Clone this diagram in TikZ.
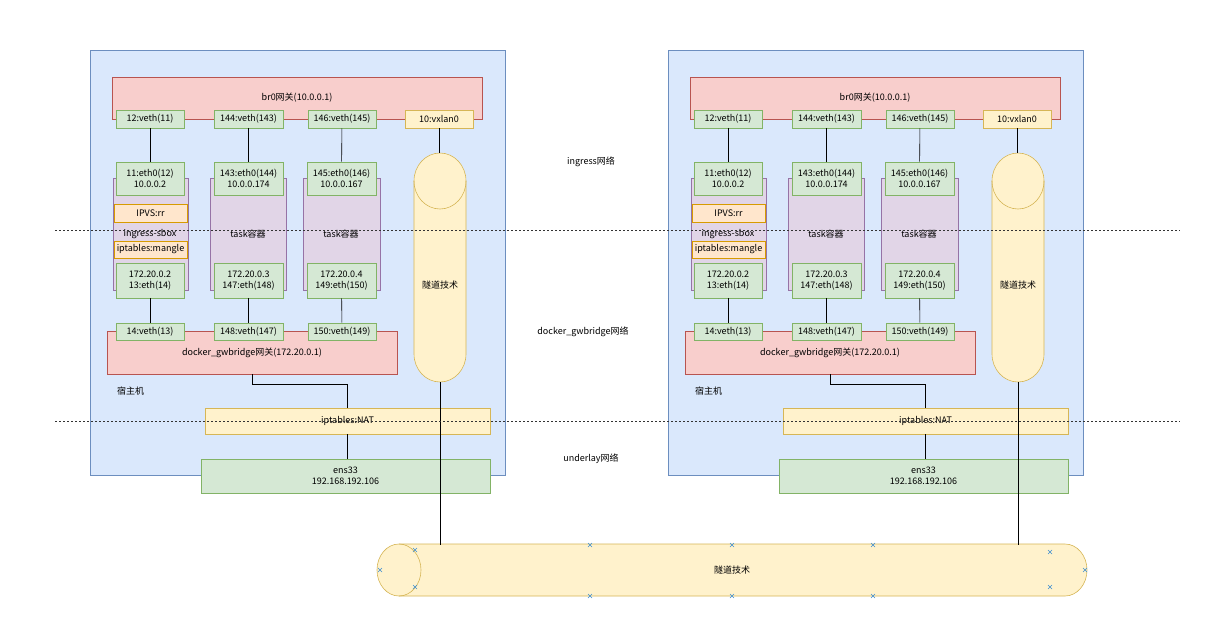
\documentclass[tikz,border=0pt]{standalone}
\usepackage{fontspec}
\setmainfont{Noto Sans CJK SC}
\definecolor{hostF}{HTML}{DAE8FC}\definecolor{hostD}{HTML}{6C8EBF}
\definecolor{redF}{HTML}{F8CECC}\definecolor{redD}{HTML}{B85450}
\definecolor{grnF}{HTML}{D5E8D4}\definecolor{grnD}{HTML}{82B366}
\definecolor{yelF}{HTML}{FFF2CC}\definecolor{yelD}{HTML}{D6B656}
\definecolor{orgF}{HTML}{FFE6CC}\definecolor{orgD}{HTML}{D79B00}
\definecolor{purF}{HTML}{E1D5E7}\definecolor{purD}{HTML}{9673A6}
\definecolor{mkC}{HTML}{3C8DD0}
\begin{document}
\begin{tikzpicture}[x=1pt,y=-1pt,
 every node/.style={font=\fontsize{9}{10.5}\selectfont, align=center, inner sep=0pt},
 host/.style={draw=hostD, fill=hostF, line width=0.6pt},
 rd/.style={draw=redD, fill=redF, line width=0.6pt},
 grn/.style={draw=grnD, fill=grnF, line width=0.6pt},
 yel/.style={draw=yelD, fill=yelF, line width=0.6pt},
 org/.style={draw=orgD, fill=orgF, line width=0.6pt},
 pur/.style={draw=purD, fill=purF, line width=0.6pt},
 ln/.style={draw=black, line width=0.6pt},
 dsh/.style={draw=black!80, dash pattern=on 2pt off 2pt, line width=0.8pt},
 mk/.style={draw=mkC, line width=0.6pt}]
\useasboundingbox (0,0) rectangle (1216,619);
\fill[white] (0,0) rectangle (1216,619);
\newcommand\myhost[2]{
 \begin{scope}[xshift=#1]
 \node[host, minimum width=415, minimum height=425] (#2h) at (297.5,262.5) {};
 \node[anchor=west] (#2hl) at (117,391) {宿主机};
 \node[rd, minimum width=370, minimum height=42] (#2br) at (297,98) {br0网关(10.0.0.1)};
 \node[rd, minimum width=290, minimum height=43] (#2gw) at (252,352.5) {};
 \node (#2gwt) at (252,353) {docker\_gwbridge网关(172.20.0.1)};
 \node[pur, minimum width=75, minimum height=112] (#2c1) at (150.5,234) {};
 \node[pur, minimum width=76, minimum height=112] (#2c2) at (248,234) {};
 \node[pur, minimum width=77, minimum height=112] (#2c3) at (341.5,234) {};
 \node (#2c1t) at (150,234) {ingress-sbox};
 \node (#2c2t) at (248,234) {task容器};
 \node (#2c3t) at (341,234) {task容器};
 \node[grn, minimum width=68, minimum height=33] (#2e1) at (150,178.5) {11:eth0(12)\\10.0.0.2};
 \node[grn, minimum width=69, minimum height=33] (#2e2) at (248.5,178.5) {143:eth0(144)\\10.0.0.174};
 \node[grn, minimum width=69, minimum height=33] (#2e3) at (341.5,178.5) {145:eth0(146)\\10.0.0.167};
 \node[grn, minimum width=68, minimum height=35] (#2f1) at (150,280.5) {172.20.0.2\\13:eth(14)};
 \node[grn, minimum width=69, minimum height=35] (#2f2) at (248.5,280.5) {172.20.0.3\\147:eth(148)};
 \node[grn, minimum width=69, minimum height=35] (#2f3) at (341.5,280.5) {172.20.0.4\\149:eth(150)};
 \node[org, minimum width=73, minimum height=18] (#2ip) at (150.5,213) {IPVS:rr};
 \node[org, minimum width=73, minimum height=17] (#2im) at (150.5,249.5) {iptables:mangle};
 \node[grn, minimum width=68, minimum height=18] (#2v1) at (150,119) {12:veth(11)};
 \node[grn, minimum width=69, minimum height=18] (#2v2) at (248.5,119) {144:veth(143)};
 \node[grn, minimum width=68, minimum height=18] (#2v3) at (342,119) {146:veth(145)};
 \node[yel, minimum width=68, minimum height=18] (#2vx) at (439,119) {10:vxlan0};
 \node[grn, minimum width=68, minimum height=17] (#2w1) at (150,331.5) {14:veth(13)};
 \node[grn, minimum width=69, minimum height=17] (#2w2) at (248.5,331.5) {148:veth(147)};
 \node[grn, minimum width=68, minimum height=17] (#2w3) at (342,331.5) {150:veth(149)};
 \node[yel, minimum width=285, minimum height=26] (#2nat) at (347.5,421) {iptables:NAT};
 \node[grn, minimum width=289, minimum height=34] (#2ens) at (345.5,476) {ens33\\192.168.192.106};
 \path[yel] (414,181) arc[start angle=180,end angle=360,x radius=26,y radius=28] -- (466,354) arc[start angle=0,end angle=180,x radius=26,y radius=28] -- cycle;
 \draw[draw=yelD, line width=0.6pt] (414,181) arc[start angle=180,end angle=0,x radius=26,y radius=28];
 \coordinate (#2ct) at (440,153);
 \coordinate (#2cb) at (440,382);
 \node (#2cl) at (440,285) {隧道技术};
 \draw[ln] (#2v1) -- (#2e1); \draw[ln] (#2v2) -- (#2e2); \draw[ln] (#2v3) -- (#2e3);
 \draw[ln] (#2f1) -- (#2w1); \draw[ln] (#2f2) -- (#2w2); \draw[ln] (#2f3) -- (#2w3);
 \draw[ln] (#2gw.south) -- ++(0,10) -| (#2nat.north);
 \draw[ln] (#2nat.south) -- (#2nat.south |- #2ens.north);
 \draw[ln] (#2vx.south) -- (#2vx.south |- #2ct);
 \coordinate (#2tt) at (440,545);
 \end{scope}
}
\myhost{0}{a}
\myhost{578}{b}
\path[yel] (399,544) -- (1065,544) arc[start angle=270,end angle=450,x radius=22,y radius=26] -- (399,596) arc[start angle=90,end angle=270,x radius=22,y radius=26] -- cycle;
\draw[draw=yelD, line width=0.6pt] (399,544) arc[start angle=270,end angle=450,x radius=22,y radius=26];
\node (tun) at (732,570) {隧道技术};
\draw[ln] (acb) -- (att);
\draw[ln] (bcb) -- (btt);
\foreach \p in {(415,550),(415,587),(380,570),(590,545),(732,545),(873,545),(590,596),(732,596),(873,596),(1050,552),(1050,587),(1085,570)}
 \draw[mk] \p ++(-2,-2) -- ++(4,4) \p ++(-2,2) -- ++(4,-4);
\draw[dsh] (55,230) -- (1180,230);
\draw[dsh] (55,421) -- (1180,421);
\node (l1) at (591,162) {ingress网络};
\node (l2) at (583,332) {docker\_gwbridge网络};
\node (l3) at (591,459) {underlay网络};
\end{tikzpicture}
\end{document}
